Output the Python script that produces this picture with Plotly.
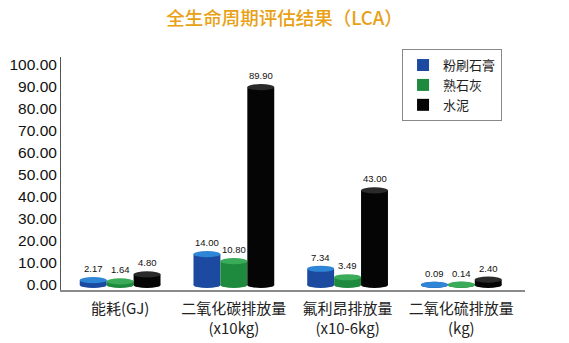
import plotly.graph_objects as go

categories = ["能耗(GJ)", "二氧化碳排放量<br>(x10kg)", "氟利昂排放量<br>(x10-6kg)", "二氧化硫排放量<br>(kg)"]
series_names = ["粉刷石膏", "熟石灰", "水泥"]
plaster = [2.17, 14.00, 7.34, 0.09]
lime = [1.64, 10.80, 3.49, 0.14]
cement = [4.80, 89.90, 43.00, 2.40]
y_ticks = [0, 10, 20, 30, 40, 50, 60, 70, 80, 90, 100]

series_values = [plaster, lime, cement]
body_colors = ["#1c4aa0", "#1e8a3e", "#050505"]
cap_colors = ["#2f85d6", "#3aab58", "#2a2a2a"]

FONT = "Liberation Sans, Arial, Noto Sans CJK SC, sans-serif"
x_pos = list(range(len(categories)))
bargap = 0.29
bw = (1 - bargap) / 3
cap_h = 1.4

fig = go.Figure()
shapes = []
annotations = []
for i, (name, vals) in enumerate(zip(series_names, series_values)):
    fig.add_trace(go.Bar(
        x=x_pos, y=vals, name=name,
        marker=dict(color=body_colors[i], line=dict(width=0)),
    ))
    off = (i - 1) * bw
    for xp, v in zip(x_pos, vals):
        xc = xp + off
        shapes.append(dict(type="circle", xref="x", yref="y",
                           x0=xc - bw / 2, x1=xc + bw / 2, y0=-cap_h, y1=cap_h,
                           fillcolor=body_colors[i], line=dict(width=0), layer="above"))
        shapes.append(dict(type="circle", xref="x", yref="y",
                           x0=xc - bw / 2, x1=xc + bw / 2, y0=v - cap_h, y1=v + cap_h,
                           fillcolor=cap_colors[i], line=dict(width=0), layer="above"))
        annotations.append(dict(x=xc, y=v + cap_h, xref="x", yref="y", text=f"{v:.2f}",
                                showarrow=False, yanchor="bottom", yshift=1,
                                font=dict(size=9.5, color="#111", family=FONT)))

fig.update_layout(
    width=569, height=343,
    margin=dict(l=61, r=44, t=57, b=53, autoexpand=False),
    paper_bgcolor="white", plot_bgcolor="white",
    barmode="group", bargap=bargap, bargroupgap=0,
    title=dict(text="全生命周期评估结果（LCA）", x=0.5, xanchor="center", y=0.945, yanchor="middle",
               font=dict(size=18.5, color="#e8a015", family="Noto Sans CJK SC, sans-serif", weight=500)),
    font=dict(family=FONT, color="#111"),
    xaxis=dict(range=[-0.52, 3.56], tickvals=x_pos, ticktext=categories, showgrid=False,
               zeroline=False, showline=True, linecolor="#8a8a8a", linewidth=2,
               ticks="", ticklabelstandoff=4, automargin=False,
               tickfont=dict(size=15, color="#222", family="Noto Sans CJK SC, Liberation Sans, sans-serif")),
    yaxis=dict(range=[-2.3, 103.6], tickvals=y_ticks, tickformat=".2f", showgrid=False,
               zeroline=False, showline=True, linecolor="#555", linewidth=1, ticks="",
               automargin=False,
               tickfont=dict(size=15.5, color="#111", family=FONT)),
    legend=dict(x=0.735, y=1.034, xanchor="left", yanchor="top", bordercolor="#888", borderwidth=1,
                bgcolor="white", font=dict(size=13, color="#222", family="Noto Sans CJK SC, sans-serif"),
                tracegroupgap=0, itemwidth=30),
    shapes=shapes,
    annotations=annotations,
)

fig.write_html("out.html")
